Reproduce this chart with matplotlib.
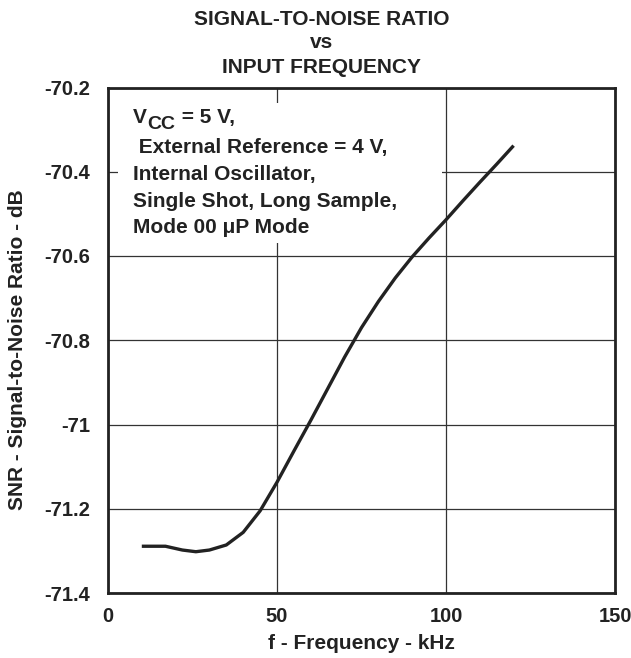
import matplotlib
matplotlib.use("Agg")
import matplotlib.pyplot as plt
from matplotlib.patches import Rectangle

# SNR vs input frequency
freq_khz = [10, 17, 22, 26, 30, 35, 40, 45, 50, 55, 60, 65, 70, 75, 80,
            85, 90, 95, 100, 105, 110, 115, 120]
snr_db = [-71.289, -71.289, -71.298, -71.302, -71.298, -71.286, -71.256,
          -71.205, -71.137, -71.063, -70.990, -70.915, -70.840, -70.770,
          -70.708, -70.652, -70.602, -70.557, -70.514, -70.469, -70.425,
          -70.382, -70.338]

x_ticks = [0, 50, 100, 150]
y_ticks = [-71.4, -71.2, -71.0, -70.8, -70.6, -70.4, -70.2]
y_tick_labels = ["-71.4", "-71.2", "-71", "-70.8", "-70.6", "-70.4", "-70.2"]

title_lines = ["SIGNAL-TO-NOISE RATIO", "vs", "INPUT FREQUENCY"]
note_lines = [" External Reference = 4 V,", "Internal Oscillator,",
              "Single Shot, Long Sample,", "Mode 00 \u03bcP Mode"]

plt.rcParams["font.family"] = ["Liberation Sans", "DejaVu Sans"]
plt.rcParams["font.weight"] = "bold"
ink = "#222222"
W, H = 631, 658

fig = plt.figure(figsize=(W / 100, H / 100), dpi=100)
ax = fig.add_axes([108 / W, 1 - 593 / H, 507 / W, 505.5 / H])

ax.plot(freq_khz, snr_db, color=ink, lw=2.4, zorder=4, solid_capstyle="butt",
        solid_joinstyle="round")

ax.set_xlim(0, 150)
ax.set_ylim(-71.4, -70.2)
ax.set_xticks(x_ticks)
ax.set_xticklabels([str(v) for v in x_ticks])
ax.set_yticks(y_ticks)
ax.set_yticklabels(y_tick_labels)
ax.tick_params(length=0, labelsize=14.5, colors=ink)
ax.tick_params(axis="y", pad=13)
ax.tick_params(axis="x", pad=10)
for lab in ax.get_xticklabels() + ax.get_yticklabels():
    lab.set_fontweight("bold")

ax.grid(True, color="#333333", lw=0.9)
for sp in ax.spines.values():
    sp.set_linewidth(2.0)
    sp.set_color(ink)

# white box behind the conditions text hides the grid there
ax.add_patch(Rectangle((3, -70.569), 95.8, 0.332, facecolor="white",
                       edgecolor="none", zorder=3))

ax.set_xlabel("f - Frequency - kHz", fontsize=15, fontweight="bold",
              color=ink, labelpad=6)
fig.text(18 / W, 1 - 350 / H, "SNR - Signal-to-Noise Ratio - dB",
         rotation=90, ha="center", va="center", fontsize=15,
         fontweight="bold", color=ink)

for txt, base in zip(title_lines, [25, 48, 73]):
    fig.text(322 / W, 1 - base / H, txt, ha="center", va="baseline",
             fontsize=15, fontweight="bold", color=ink)

# conditions text
tv = fig.text(133 / W, 1 - 127 / H, "V", ha="left", va="bottom",
              fontsize=15, fontweight="bold", color=ink, zorder=5)
tc = ax.annotate("CC", xy=(1, 0), xycoords=tv, xytext=(0.5, -4),
                 textcoords="offset points", ha="left", va="bottom",
                 fontsize=14, fontweight="bold", color=ink, zorder=5)
ax.annotate(" = 5 V,", xy=(1, 0), xycoords=tc, xytext=(0, 4),
            textcoords="offset points", ha="left", va="bottom",
            fontsize=15, fontweight="bold", color=ink, zorder=5,
            annotation_clip=False)
tc.set_annotation_clip(False)
for txt, base in zip(note_lines, [153, 180, 207, 233]):
    fig.text(133 / W, 1 - base / H, txt, ha="left", va="baseline",
             fontsize=15, fontweight="bold", color=ink, zorder=5)

fig.savefig("out.png", dpi=100)
